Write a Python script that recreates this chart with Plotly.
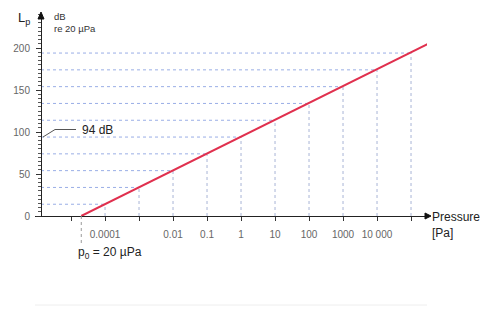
import math
import plotly.graph_objects as go

# ---- data ----
line_pressure = [2e-5, 4.5e5]        # Pa
line_level = [0, 208]                # dB re 20 µPa
decade_pressure = [1e-4, 1e-3, 1e-2, 1e-1, 1, 10, 100, 1000, 1e4, 1e5]
decade_level = [14, 34, 54, 74, 94, 114, 134, 154, 174, 194]
x_tickvals = [1e-4, 1e-2, 1e-1, 1, 10, 100, 1000, 1e4]
x_ticktext = ["0.0001", "0.01", "0.1", "1", "10", "100", "1000", "10 000"]
x_minor_ticks = [1e-5, 1e-3, 1e5]
y_tickvals = [0, 50, 100, 150, 200]
p0 = 2e-5
ref_level = 94

# page body has an 8px margin, so the figure is drawn at (8, 8)
OFF = 8
W, H = 488 - OFF, 300
L_REF, T_REF = 35, 14        # plot area left/top in screen pixels
PW, PH = 392, 202
L, T = L_REF - OFF, T_REF - OFF
R, B = W - L - PW, H - T - PH
XMIN, XMAX = -6.06, 5.47  # log10 range
YMIN, YMAX = 0, 240.5

def px(X):
    return (X - L_REF) / PW

def py(Y):
    return (T_REF + PH - Y) / PH

y_axis_x = 10 ** (XMIN + (41 - L_REF) / PW * (XMAX - XMIN))

fig = go.Figure()

for p, lv in zip(decade_pressure, decade_level):
    fig.add_trace(go.Scatter(x=[y_axis_x, p], y=[lv, lv], mode="lines",
                             line=dict(color="#9aaee6", width=1, dash="dot"),
                             hoverinfo="skip", showlegend=False))
    fig.add_trace(go.Scatter(x=[p, p], y=[0, lv], mode="lines",
                             line=dict(color="#a9b4d6", width=1, dash="dot"),
                             hoverinfo="skip", showlegend=False))

fig.add_trace(go.Scatter(x=line_pressure, y=line_level, mode="lines",
                         line=dict(color="#e0304e", width=2),
                         hoverinfo="skip", showlegend=False))

shapes = []
shapes.append(dict(type="line", xref="x", yref="paper", x0=p0, x1=p0,
                   y0=py(216), y1=py(245), line=dict(color="#9a9a9a", width=1, dash="dot")))
shapes.append(dict(type="path", xref="paper", yref="paper",
                   path=f"M {px(43)} {py(137)} L {px(55)} {py(129.5)} L {px(76)} {py(129.5)}",
                   line=dict(color="#555", width=1)))
# arrowheads
shapes.append(dict(type="path", xref="paper", yref="paper",
                   path=f"M {px(41)} {py(12)} L {px(38)} {py(19)} L {px(44)} {py(19)} Z",
                   fillcolor="#111", line=dict(color="#111", width=1)))
shapes.append(dict(type="path", xref="paper", yref="paper",
                   path=f"M {px(431)} {py(216)} L {px(425)} {py(213)} L {px(425)} {py(219)} Z",
                   fillcolor="#111", line=dict(color="#111", width=1)))
# faint reflection of the x-axis
shapes.append(dict(type="line", xref="paper", yref="paper", x0=px(35), x1=px(427),
                   y0=py(305), y1=py(305), line=dict(color="#eeeeee", width=1)))

annotations = [
    dict(x=px(16), y=py(18), text="L<sub>p</sub>", showarrow=False, xanchor="left",
         yanchor="middle", font=dict(size=13, color="#222"), xref="paper", yref="paper"),
    dict(x=px(52), y=py(16), text="dB", showarrow=False, xanchor="left",
         yanchor="middle", font=dict(size=9.5, color="#333"), xref="paper", yref="paper"),
    dict(x=px(52), y=py(29), text="re 20 µPa", showarrow=False, xanchor="left",
         yanchor="middle", font=dict(size=9.5, color="#333"), xref="paper", yref="paper"),
    dict(x=px(80), y=py(130), text=f"{ref_level} dB", showarrow=False, xanchor="left",
         yanchor="middle", font=dict(size=12, color="#222"), xref="paper", yref="paper"),
    dict(x=px(430), y=py(217), text="Pressure", showarrow=False, xanchor="left",
         yanchor="middle", font=dict(size=12, color="#222"), xref="paper", yref="paper"),
    dict(x=px(430), y=py(233), text="[Pa]", showarrow=False, xanchor="left",
         yanchor="middle", font=dict(size=12, color="#222"), xref="paper", yref="paper"),
    dict(x=px(76), y=py(253), text="p<sub>0</sub> = 20 µPa", showarrow=False, xanchor="left",
         yanchor="middle", font=dict(size=12, color="#222"), xref="paper", yref="paper"),
]

fig.update_layout(
    width=W, height=H,
    margin=dict(l=L, r=R, t=T, b=B, pad=0),
    paper_bgcolor="white", plot_bgcolor="white",
    font=dict(family="Liberation Sans, Arial, sans-serif", size=10, color="#666"),
    shapes=shapes, annotations=annotations,
    xaxis=dict(type="log", range=[XMIN, XMAX], showgrid=False, zeroline=False,
               showline=True, linecolor="#222", linewidth=1,
               tickvals=x_tickvals, ticktext=x_ticktext,
               ticks="outside", ticklen=4, tickcolor="#333",
               tickfont=dict(size=10, color="#666"), ticklabelstandoff=5,
               minor=dict(tickvals=x_minor_ticks, ticks="outside", ticklen=4,
                          tickcolor="#333", showgrid=False)),
    yaxis=dict(range=[YMIN, YMAX], showgrid=False, zeroline=False,
               showline=True, linecolor="#222", linewidth=1,
               anchor="free", position=(41 - L_REF) / PW, side="left",
               tickvals=y_tickvals, ticks="outside", ticklen=5, tickcolor="#333",
               tickfont=dict(size=10, color="#666"), ticklabelstandoff=4,
               minor=dict(dtick=5, ticks="outside", ticklen=3, tickcolor="#555")),
)

fig.write_html("out.html")
